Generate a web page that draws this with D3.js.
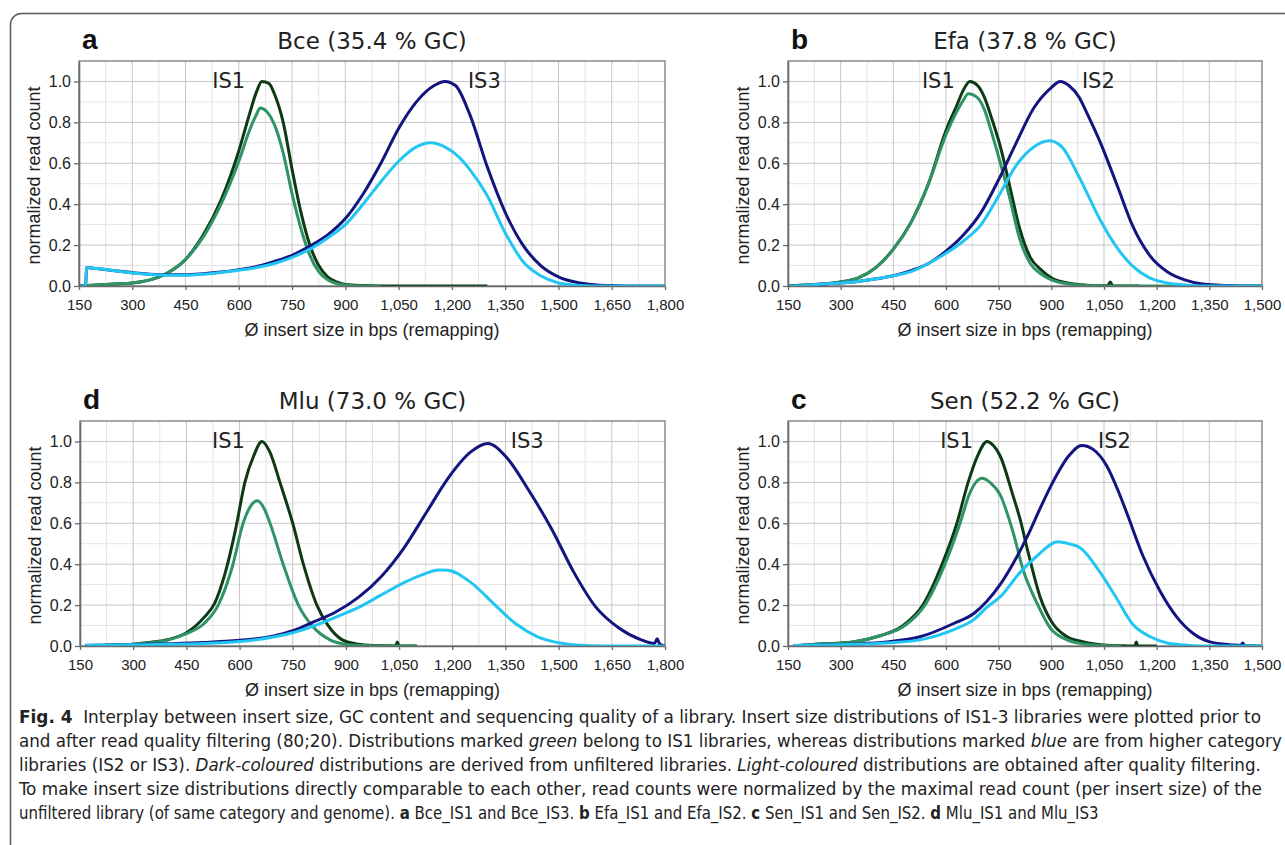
<!DOCTYPE html>
<html>
<head>
<meta charset="utf-8">
<script src="https://cdn.jsdelivr.net/npm/d3@7"></script>
<style>
	body { margin: 0; background: #fff; }
	svg { display: block; }
</style>
</head>
<body>
<svg id="fig" width="1285" height="845"></svg>
<script>
// ---------------- DATA ([insert size bp, normalized read count]) ----------------

var xTicksLong = [150, 300, 450, 600, 750, 900, 1050, 1200, 1350, 1500, 1650, 1800];
var xTicksShort = [150, 300, 450, 600, 750, 900, 1050, 1200, 1350, 1500];
var yTicks = [0, 0.2, 0.4, 0.6, 0.8, 1.0];

// a  Bce
var bceIS1Raw = [[150, 0], [200, 0.005], [250, 0.01], [300, 0.015], [350, 0.03], [400, 0.065], [450, 0.13], [500, 0.25], [550, 0.42], [600, 0.66], [630, 0.84], [650, 0.95], [665, 1.0], [685, 0.99], [700, 0.94], [725, 0.8], [750, 0.57], [775, 0.36], [800, 0.2], [825, 0.1], [850, 0.045], [875, 0.02], [900, 0.008], [950, 0.002], [1000, 0], [1300, 0]];
var bceIS1Filtered = [[150, 0], [200, 0.005], [250, 0.01], [300, 0.015], [350, 0.03], [400, 0.065], [450, 0.13], [500, 0.24], [550, 0.4], [600, 0.61], [630, 0.76], [650, 0.84], [660, 0.87], [680, 0.85], [700, 0.79], [725, 0.65], [750, 0.45], [775, 0.28], [800, 0.15], [825, 0.07], [850, 0.03], [875, 0.012], [900, 0.005], [950, 0], [1000, 0]];
var bceIS3Raw = [[150, 0], [168, 0], [172, 0.09], [200, 0.085], [250, 0.075], [300, 0.065], [350, 0.058], [400, 0.055], [450, 0.055], [500, 0.06], [550, 0.068], [600, 0.08], [650, 0.095], [700, 0.12], [750, 0.15], [800, 0.195], [850, 0.25], [900, 0.33], [950, 0.45], [1000, 0.6], [1050, 0.77], [1100, 0.9], [1150, 0.98], [1180, 1.0], [1210, 0.98], [1250, 0.84], [1300, 0.58], [1350, 0.36], [1400, 0.2], [1450, 0.1], [1500, 0.045], [1550, 0.018], [1600, 0.006], [1650, 0.002], [1700, 0], [1800, 0]];
var bceIS3Filtered = [[150, 0], [168, 0], [172, 0.09], [200, 0.085], [250, 0.075], [300, 0.063], [350, 0.056], [400, 0.053], [450, 0.053], [500, 0.058], [550, 0.066], [600, 0.077], [650, 0.09], [700, 0.11], [750, 0.14], [800, 0.18], [850, 0.235], [900, 0.3], [950, 0.4], [1000, 0.51], [1050, 0.61], [1100, 0.68], [1140, 0.7], [1180, 0.68], [1220, 0.63], [1250, 0.57], [1300, 0.44], [1350, 0.26], [1400, 0.12], [1450, 0.05], [1500, 0.015], [1550, 0.004], [1600, 0], [1800, 0]];

// b  Efa
var efaIS1Raw = [[150, 0], [200, 0.005], [250, 0.01], [300, 0.02], [350, 0.04], [400, 0.09], [450, 0.18], [500, 0.31], [550, 0.5], [600, 0.76], [630, 0.88], [650, 0.96], [668, 1.0], [690, 0.98], [710, 0.92], [730, 0.82], [755, 0.68], [780, 0.5], [810, 0.28], [840, 0.14], [870, 0.08], [900, 0.04], [950, 0.013], [1000, 0.004], [1060, 0.001], [1068, 0.02], [1075, 0], [1150, 0]];
var efaIS1Filtered = [[150, 0], [200, 0.005], [250, 0.01], [300, 0.02], [350, 0.04], [400, 0.09], [450, 0.18], [500, 0.31], [550, 0.5], [600, 0.74], [630, 0.85], [650, 0.91], [663, 0.94], [690, 0.92], [710, 0.86], [730, 0.75], [755, 0.6], [780, 0.44], [810, 0.23], [840, 0.11], [870, 0.06], [900, 0.03], [950, 0.01], [1000, 0.002], [1050, 0], [1500, 0]];
var efaIS2Raw = [[150, 0], [200, 0.003], [250, 0.01], [300, 0.015], [350, 0.022], [400, 0.035], [450, 0.05], [500, 0.075], [550, 0.11], [600, 0.17], [650, 0.25], [700, 0.36], [750, 0.52], [800, 0.7], [850, 0.87], [900, 0.97], [925, 1.0], [950, 0.98], [980, 0.92], [1000, 0.85], [1040, 0.7], [1090, 0.48], [1130, 0.3], [1180, 0.15], [1230, 0.07], [1280, 0.03], [1330, 0.01], [1380, 0.004], [1410, 0.002], [1450, 0], [1500, 0]];
var efaIS2Filtered = [[150, 0], [200, 0.003], [250, 0.01], [300, 0.015], [350, 0.022], [400, 0.035], [450, 0.05], [500, 0.07], [550, 0.11], [600, 0.16], [650, 0.22], [700, 0.3], [750, 0.44], [800, 0.59], [850, 0.68], [895, 0.71], [930, 0.68], [980, 0.53], [1040, 0.32], [1090, 0.18], [1130, 0.1], [1180, 0.04], [1230, 0.015], [1280, 0.005], [1330, 0], [1500, 0]];

// d  Mlu
var mluIS1Raw = [[165, 0], [200, 0.002], [250, 0.005], [300, 0.009], [350, 0.018], [400, 0.032], [450, 0.065], [500, 0.14], [530, 0.21], [560, 0.36], [590, 0.58], [615, 0.8], [640, 0.93], [663, 1.0], [685, 0.95], [714, 0.8], [750, 0.6], [780, 0.4], [818, 0.2], [850, 0.1], [890, 0.03], [930, 0.01], [980, 0.002], [1040, 0], [1045, 0.02], [1050, 0], [1100, 0]];
var mluIS1Filtered = [[165, 0], [200, 0.002], [250, 0.005], [300, 0.009], [350, 0.017], [400, 0.03], [450, 0.06], [500, 0.11], [540, 0.2], [580, 0.39], [610, 0.6], [630, 0.68], [650, 0.71], [670, 0.67], [686, 0.6], [723, 0.4], [766, 0.2], [804, 0.1], [855, 0.03], [900, 0.008], [950, 0.002], [1000, 0], [1100, 0]];
var mluIS3Raw = [[165, 0.003], [250, 0.005], [300, 0.007], [400, 0.011], [500, 0.017], [600, 0.028], [700, 0.05], [750, 0.075], [812, 0.12], [870, 0.165], [937, 0.24], [1000, 0.34], [1064, 0.48], [1126, 0.65], [1188, 0.82], [1253, 0.95], [1300, 0.99], [1354, 0.92], [1416, 0.76], [1481, 0.57], [1543, 0.36], [1605, 0.19], [1670, 0.088], [1733, 0.03], [1770, 0.012], [1778, 0.035], [1785, 0.01], [1800, 0]];
var mluIS3Filtered = [[165, 0.004], [250, 0.005], [300, 0.006], [400, 0.008], [500, 0.012], [600, 0.022], [700, 0.045], [750, 0.065], [812, 0.1], [870, 0.14], [937, 0.19], [1000, 0.25], [1064, 0.31], [1126, 0.355], [1160, 0.372], [1188, 0.37], [1253, 0.31], [1315, 0.21], [1378, 0.11], [1441, 0.045], [1504, 0.015], [1560, 0.004], [1620, 0], [1800, 0]];

// c  Sen
var senIS1Raw = [[165, 0], [200, 0.005], [241, 0.01], [300, 0.015], [335, 0.02], [412, 0.05], [478, 0.1], [534, 0.2], [589, 0.4], [631, 0.6], [663, 0.8], [690, 0.93], [717, 1.0], [735, 0.98], [754, 0.93], [790, 0.74], [811, 0.62], [835, 0.45], [868, 0.24], [904, 0.11], [945, 0.045], [992, 0.02], [1050, 0.005], [1100, 0.001], [1138, 0], [1142, 0.02], [1146, 0], [1200, 0]];
var senIS1Filtered = [[165, 0], [200, 0.005], [241, 0.01], [300, 0.015], [335, 0.02], [412, 0.05], [483, 0.1], [540, 0.2], [597, 0.4], [640, 0.6], [666, 0.74], [685, 0.8], [703, 0.82], [725, 0.8], [754, 0.74], [792, 0.55], [820, 0.37], [859, 0.21], [896, 0.09], [945, 0.03], [992, 0.01], [1050, 0.002], [1100, 0]];
var senIS2Raw = [[165, 0.003], [250, 0.005], [337, 0.01], [432, 0.02], [526, 0.045], [622, 0.11], [680, 0.16], [717, 0.22], [754, 0.3], [790, 0.4], [830, 0.53], [870, 0.68], [904, 0.8], [950, 0.93], [987, 0.98], [1020, 0.96], [1058, 0.88], [1090, 0.76], [1115, 0.65], [1161, 0.44], [1209, 0.27], [1258, 0.14], [1305, 0.06], [1352, 0.02], [1418, 0.005], [1440, 0.003], [1445, 0.015], [1450, 0.002], [1500, 0]];
var senIS2Filtered = [[165, 0.003], [250, 0.005], [337, 0.008], [432, 0.015], [526, 0.03], [622, 0.08], [680, 0.13], [717, 0.19], [754, 0.24], [811, 0.36], [859, 0.44], [919, 0.51], [950, 0.5], [982, 0.48], [1039, 0.36], [1087, 0.23], [1130, 0.11], [1182, 0.045], [1230, 0.015], [1280, 0.005], [1330, 0], [1500, 0]];

// curve labels: [text, bp, value, anchor]
var bceLabels = [['IS1', 618, 0.97, 'end'], ['IS3', 1245, 0.97, 'start']];
var efaLabels = [['IS1', 625, 0.97, 'end'], ['IS2', 987, 0.97, 'start']];
var mluLabels = [['IS1', 615, 0.97, 'end'], ['IS3', 1365, 0.97, 'start']];
var senLabels = [['IS1', 677, 0.97, 'end'], ['IS2', 1033, 0.97, 'start']];

var captionLines = [
	[['Fig. 4', 'b'], ['  Interplay between insert size, GC content and sequencing quality of a library. Insert size distributions of IS1-3 libraries were plotted prior to', 'n']],
	[['and after read quality filtering (80;20). Distributions marked ', 'n'], ['green', 'i'], [' belong to IS1 libraries, whereas distributions marked ', 'n'], ['blue', 'i'], [' are from higher category', 'n']],
	[['libraries (IS2 or IS3). ', 'n'], ['Dark-coloured', 'i'], [' distributions are derived from unfiltered libraries. ', 'n'], ['Light-coloured', 'i'], [' distributions are obtained after quality filtering.', 'n']],
	[['To make insert size distributions directly comparable to each other, read counts were normalized by the maximal read count (per insert size) of the', 'n']],
	[['unfiltered library (of same category and genome). ', 'n'], ['a', 'b'], [' Bce_IS1 and Bce_IS3. ', 'n'], ['b', 'b'], [' Efa_IS1 and Efa_IS2. ', 'n'], ['c', 'b'], [' Sen_IS1 and Sen_IS2. ', 'n'], ['d', 'b'], [' Mlu_IS1 and Mlu_IS3', 'n']]
];
var captionWidths = [1243, 1264, 1243, 1243, 1080];

// ---------------- CHART ----------------
var attrs = {
	colors: { is1Raw: '#0d3a14', is1Filtered: '#2f9465', hiRaw: '#141480', hiFiltered: '#22c6f2' },
	lineWidth: 3,
	sansFont: '"Liberation Sans", Arial, sans-serif',
	titleFont: '"DejaVu Sans", Verdana, sans-serif',
	xTickSize: 15,
	yTickSize: 16,
	axisTitleSize: 18
};

var panels = [
	{ letter: 'a', title: 'Bce (35.4 % GC)', left: 79, right: 665, top: 61, bottom: 286, xTicks: xTicksLong,
		series: [bceIS1Raw, bceIS1Filtered, bceIS3Raw, bceIS3Filtered], labels: bceLabels },
	{ letter: 'b', title: 'Efa (37.8 % GC)', left: 788, right: 1262, top: 61, bottom: 286, xTicks: xTicksShort,
		series: [efaIS1Raw, efaIS1Filtered, efaIS2Raw, efaIS2Filtered], labels: efaLabels },
	{ letter: 'd', title: 'Mlu (73.0 % GC)', left: 80, right: 665, top: 421, bottom: 646, xTicks: xTicksLong,
		series: [mluIS1Raw, mluIS1Filtered, mluIS3Raw, mluIS3Filtered], labels: mluLabels },
	{ letter: 'c', title: 'Sen (52.2 % GC)', left: 788, right: 1262, top: 421, bottom: 646, xTicks: xTicksShort,
		series: [senIS1Raw, senIS1Filtered, senIS2Raw, senIS2Filtered], labels: senLabels }
];

var svg = d3.select('#fig');

// outer frame
svg.append('rect')
	.attr('x', 10.5).attr('y', 13.5)
	.attr('width', 1300).attr('height', 860)
	.attr('rx', 11)
	.attr('fill', 'none')
	.attr('stroke', '#5a5a5a')
	.attr('stroke-width', 1.5);

panels.forEach(drawPanel);
drawCaption();

function drawPanel(p) {
	var xMax = p.xTicks[p.xTicks.length - 1];
	var x = d3.scaleLinear().domain([150, xMax]).range([p.left, p.right]);
	var y = d3.scaleLinear().domain([0, 1.1]).range([p.bottom, p.top]);
	var g = svg.append('g').attr('class', 'panel-' + p.letter);

	// grid: minor first, then major
	var minorX = p.xTicks.slice(0, -1).map(d => d + 75);
	var minorY = [0.1, 0.3, 0.5, 0.7, 0.9];
	g.selectAll('.vminor').data(minorX).enter().append('line')
		.attr('x1', d => x(d)).attr('x2', d => x(d))
		.attr('y1', p.top).attr('y2', p.bottom)
		.attr('stroke', '#e4e4e4').attr('stroke-width', 1);
	g.selectAll('.hminor').data(minorY).enter().append('line')
		.attr('x1', p.left).attr('x2', p.right)
		.attr('y1', d => y(d)).attr('y2', d => y(d))
		.attr('stroke', '#e4e4e4').attr('stroke-width', 1);
	g.selectAll('.vmajor').data(p.xTicks.slice(1, -1)).enter().append('line')
		.attr('x1', d => x(d)).attr('x2', d => x(d))
		.attr('y1', p.top).attr('y2', p.bottom)
		.attr('stroke', '#c6c6c6').attr('stroke-width', 1);
	g.selectAll('.hmajor').data(yTicks.slice(1)).enter().append('line')
		.attr('x1', p.left).attr('x2', p.right)
		.attr('y1', d => y(d)).attr('y2', d => y(d))
		.attr('stroke', '#c6c6c6').attr('stroke-width', 1);

	// plot frame
	g.append('rect')
		.attr('x', p.left).attr('y', p.top)
		.attr('width', p.right - p.left).attr('height', p.bottom - p.top)
		.attr('fill', 'none').attr('stroke', '#8a8a8a').attr('stroke-width', 1.5);

	// curves
	var clipId = 'clip-' + p.letter;
	g.append('clipPath').attr('id', clipId).append('rect')
		.attr('x', p.left).attr('y', p.top - 4)
		.attr('width', p.right - p.left).attr('height', p.bottom - p.top + 4);

	var line = d3.line()
		.x(d => x(d[0]))
		.y(d => y(d[1]))
		.curve(d3.curveMonotoneX);

	var cols = [attrs.colors.is1Raw, attrs.colors.is1Filtered, attrs.colors.hiRaw, attrs.colors.hiFiltered];
	g.append('g').attr('clip-path', 'url(#' + clipId + ')')
		.selectAll('path').data(p.series).enter().append('path')
		.attr('d', line)
		.attr('fill', 'none')
		.attr('stroke', (d, i) => cols[i])
		.attr('stroke-width', attrs.lineWidth)
		.attr('stroke-linejoin', 'round');

	// axes
	var xAxis = g.append('g')
		.attr('transform', 'translate(0,' + p.bottom + ')')
		.call(d3.axisBottom(x).tickValues(p.xTicks).tickFormat(d3.format(',')).tickSize(4).tickSizeOuter(0).tickPadding(9));
	var yAxis = g.append('g')
		.attr('transform', 'translate(' + p.left + ',0)')
		.call(d3.axisLeft(y).tickValues(yTicks).tickFormat(d3.format('.1f')).tickSize(5).tickSizeOuter(0).tickPadding(3));

	[[xAxis, attrs.xTickSize], [yAxis, attrs.yTickSize]].forEach(function (a) {
		var ax = a[0];
		ax.select('.domain').attr('stroke', '#6a6a6a').attr('stroke-width', 1.6);
		ax.selectAll('.tick line').attr('stroke', '#6a6a6a').attr('stroke-width', 1.3);
		ax.selectAll('.tick text')
			.attr('fill', '#222')
			.style('font-family', attrs.sansFont)
			.style('font-size', a[1] + 'px');
	});

	// axis titles
	g.append('text')
		.attr('x', (p.left + p.right) / 2)
		.attr('y', p.bottom + 50)
		.attr('text-anchor', 'middle')
		.attr('fill', '#222')
		.style('font-family', attrs.sansFont)
		.style('font-size', attrs.axisTitleSize + 'px')
		.text('Ø insert size in bps (remapping)');

	g.append('text')
		.attr('transform', 'translate(' + (p.left - 39) + ',' + ((p.top + p.bottom) / 2 + 2) + ') rotate(-90)')
		.attr('text-anchor', 'middle')
		.attr('fill', '#222')
		.style('font-family', attrs.sansFont)
		.style('font-size', attrs.axisTitleSize + 'px')
		.text('normalized read count');

	// panel letter & title
	g.append('text')
		.attr('x', p.left + 3)
		.attr('y', p.top - 12)
		.attr('fill', '#111')
		.style('font-family', attrs.sansFont)
		.style('font-weight', 'bold')
		.style('font-size', '28px')
		.text(p.letter);

	g.append('text')
		.attr('x', (p.left + p.right) / 2)
		.attr('y', p.top - 12)
		.attr('text-anchor', 'middle')
		.attr('fill', '#222')
		.style('font-family', attrs.titleFont)
		.style('font-size', '23px')
		.text(p.title);

	// IS labels
	g.selectAll('.islabel').data(p.labels).enter().append('text')
		.attr('x', d => x(d[1]))
		.attr('y', d => y(d[2]))
		.attr('text-anchor', d => d[3])
		.attr('fill', '#222')
		.style('font-family', attrs.titleFont)
		.style('font-size', '21px')
		.text(d => d[0]);
}

function drawCaption() {
	var cap = svg.append('g').attr('class', 'caption');
	captionLines.forEach(function (segs, i) {
		var t = cap.append('text')
			.attr('fill', '#222')
			.style('font-family', '"Liberation Sans Narrow", "DejaVu Sans Condensed", "Liberation Sans", sans-serif')
			.style('font-size', '18px')
			.attr('xml:space', 'preserve');
		segs.forEach(function (s) {
			t.append('tspan')
				.style('font-weight', s[1] === 'b' ? 'bold' : 'normal')
				.style('font-style', s[1] === 'i' ? 'italic' : 'normal')
				.text(s[0]);
		});
		var natural = t.node().getComputedTextLength();
		var k = captionWidths[i] / natural;
		t.attr('transform', 'translate(19,' + (723 + i * 24) + ') scale(' + k + ',1)');
	});
}
</script>
</body>
</html>
